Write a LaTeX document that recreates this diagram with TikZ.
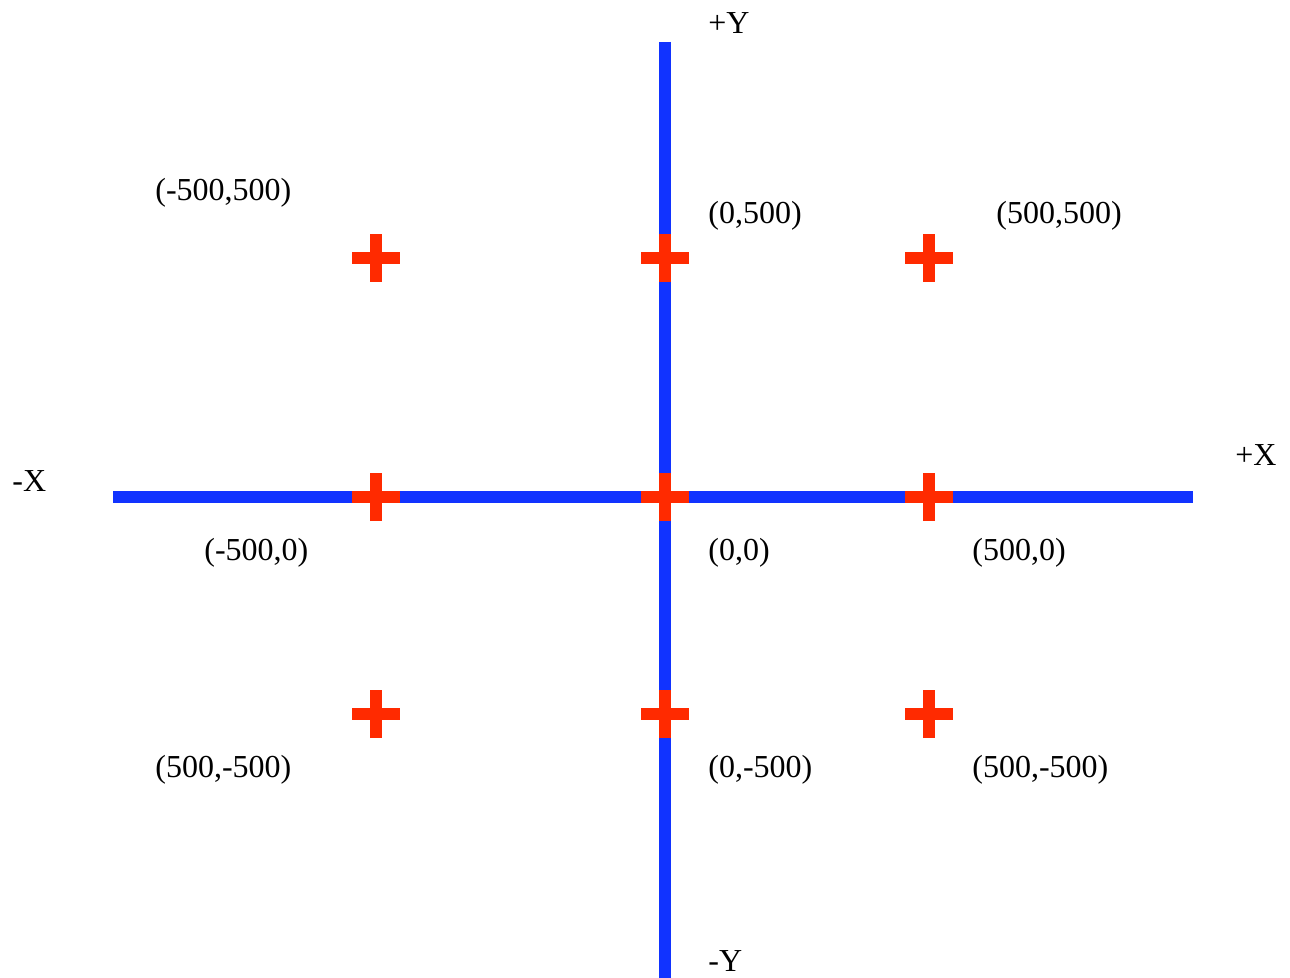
\documentclass[tikz,border=0pt]{standalone}
\usepackage{fontspec}
\setmainfont{Liberation Serif}
\usetikzlibrary{positioning}
\definecolor{axisblue}{RGB}{17,51,255}
\definecolor{markred}{RGB}{255,42,0}

\begin{document}
\begin{tikzpicture}[x=0.5pt,y=-0.5pt,font=\fontsize{16}{19}\selectfont,
axis/.style={draw=axisblue,line width=6pt},
mark arm/.style={draw=markred,line width=6pt},
lbl/.style={anchor=west,inner sep=0pt}]
\useasboundingbox (0,0) rectangle (1290,978);
% axes
\coordinate (xl) at (113,497); \coordinate (xr) at (1193,497);
\coordinate (yt) at (665,42); \coordinate (yb) at (665,978);
\draw[axis] (xl)--(xr);
\draw[axis] (yt)--(yb);
% crosses
\foreach \cx/\cy [count=\i] in {376/258,665/258,929/258,376/497,665/497,929/497,376/714,665/714,929/714}{
  \coordinate (m\i) at (\cx,\cy);
  \draw[mark arm] ([xshift=-12pt]m\i)--([xshift=12pt]m\i);
  \draw[mark arm] ([yshift=-12pt]m\i)--([yshift=12pt]m\i);
}
% axis names
\node[lbl] (py) at (708,23) {+Y};
\node[lbl] (ny) at (708,961) {-Y};
\node[lbl] (nx) at (12,481) {-X};
\node[lbl] (px) at (1235,455) {+X};
% point labels
\node[lbl] (l1) at (155,193) {(-500,500)};
\node[lbl] (l2) at (708,216) {(0,500)};
\node[lbl] (l3) at (996,216) {(500,500)};
\node[lbl] (l4) at (204,553) {(-500,0)};
\node[lbl] (l5) at (708,553) {(0,0)};
\node[lbl] (l6) at (972,553) {(500,0)};
\node[lbl] (l7) at (155,770) {(500,-500)};
\node[lbl] (l8) at (708,770) {(0,-500)};
\node[lbl] (l9) at (972,770) {(500,-500)};
\end{tikzpicture}
\end{document}
